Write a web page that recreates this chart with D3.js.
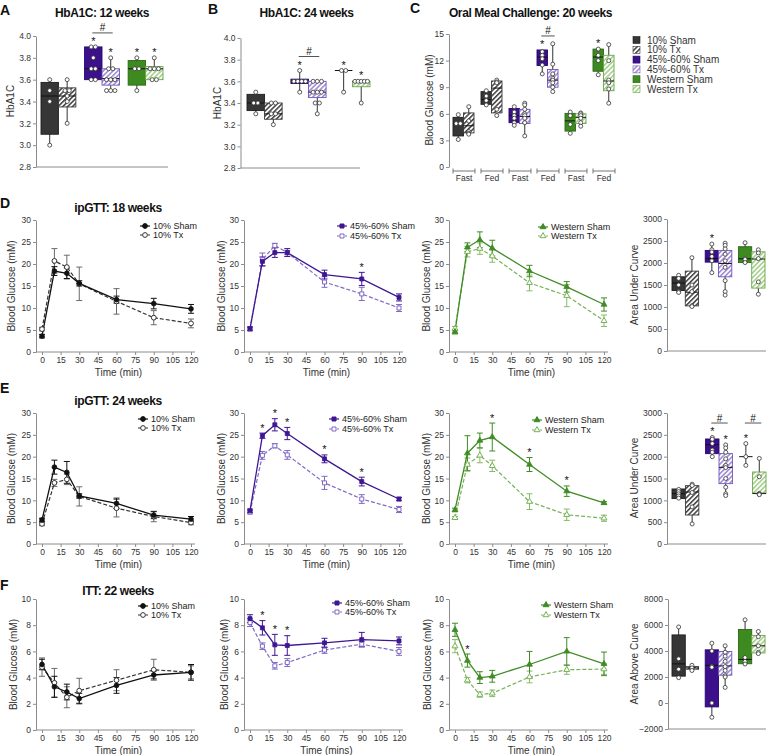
<!DOCTYPE html>
<html><head><meta charset="utf-8">
<script src="https://cdn.jsdelivr.net/npm/d3@7"></script>
<style>
body{margin:0;background:#fff;}
svg{display:block;}
</style></head><body>
<svg id="chart" width="768" height="755"></svg>
<script>
// ---------------- DATA ----------------
const times = [0,10,20,30,60,90,120];
const timeTicks = [0,15,30,45,60,75,90,105,120];
const groupNames = ["10% Sham","10% Tx","45%-60% Sham","45%-60% Tx","Western Sham","Western Tx"];
const mealCats = ["Fast","Fed","Fast","Fed","Fast","Fed"];

// A: HbA1C 12 weeks  [min, q1, median, q3, max]
const hba12Stats = [[3.0,3.1,3.45,3.575,3.6],[3.2,3.35,3.45,3.525,3.6],[3.6,3.6,3.7,3.9,3.9],[3.5,3.55,3.61,3.7,3.8],[3.5,3.55,3.7,3.775,3.8],[3.6,3.6,3.7,3.72,3.8]];
const hba12Pts = [[3.6,3.5,3.4,3.0],[3.6,3.5,3.5,3.45,3.4,3.2],[3.9,3.9,3.8,3.7,3.7,3.6,3.6],[3.8,3.7,3.7,3.6,3.6,3.6,3.5,3.5,3.5],[3.8,3.7,3.7,3.5],[3.8,3.7,3.7,3.7,3.6,3.6]];
const hba12Stars = [2,3,4,5];
const hba12Hash = [1];
const hbaTicks = [2.8,3.0,3.2,3.4,3.6,3.8,4.0];

// B: HbA1C 24 weeks
const hba24Stats = [[3.3,3.33,3.4,3.48,3.5],[3.2,3.25,3.3,3.4,3.4],[3.5,3.58,3.6,3.62,3.7],[3.3,3.45,3.5,3.6,3.6],[3.5,3.7,3.7,3.7,3.7],[3.4,3.55,3.6,3.6,3.6]];
const hba24Pts = [[3.5,3.4,3.4,3.3],[3.4,3.4,3.3,3.3,3.2],[3.7,3.6,3.6,3.6,3.6,3.5],[3.6,3.6,3.6,3.5,3.5,3.5,3.4,3.4,3.3],[3.7,3.7,3.5],[3.6,3.6,3.6,3.6,3.6,3.4]];
const hba24Stars = [2,4,5];
const hba24Hash = [1];

// C: Oral meal challenge 20 weeks (order: Fast10 Sham/Tx, Fed10 Sham/Tx, FastHF, FedHF, FastW, FedW)
const omcStats = [[3.1,3.5,4.9,5.6,5.9],[3.7,3.85,4.65,6.1,6.8],[7.0,7.07,7.6,8.5,8.6],[5.8,6.1,8.9,9.7,9.8],[4.7,5.0,5.8,6.6,6.8],[3.5,4.9,5.7,6.5,7.2],[10.5,11.45,12.4,13.2,13.2],[8.5,9.0,9.8,11.0,13.9],[3.8,4.05,5.2,6.05,6.2],[4.6,4.9,5.6,6.0,6.2],[10.4,10.8,12.4,13.3,13.3],[7.2,8.6,9.7,12.6,13.8]];
const omcPts = [[5.9,4.9,4.9,3.1],[6.8,5.2,4.0,3.8,3.7],[8.6,8.0,7.5,7.0],[9.8,9.6,9.5,6.5,5.8],[6.8,6.2,5.8,5.5,5.0,4.7],[7.2,7.0,6.5,6.0,5.8,5.5,5.0,3.5],[13.0,12.6,12.2,11.5,10.5],[13.9,11.6,10.5,10.0,9.8,9.5,9.0,8.5],[6.2,5.8,4.8,3.8],[6.1,6.0,5.8,5.5,5.0,4.6],[13.3,12.6,12.0,10.4],[13.8,12.0,9.8,9.5,8.8,7.2]];
const omcStars = [6,10];
const omcHash = [3];
const omcTicks = [0,3,6,9,12,15];

// D: ipGTT 18 weeks
const gtt18CtrlSham = [3.6,18.4,17.9,15.6,11.9,11.0,9.8];
const gtt18CtrlShamErr = [0.4,1.0,1.2,0.6,0.8,1.2,1.0];
const gtt18CtrlTx = [5.2,20.7,19.3,15.5,11.5,7.8,6.5];
const gtt18CtrlTxErr = [0.4,2.8,2.7,3.8,2.9,1.6,1.0];
const gtt18HfSham = [5.3,20.6,22.6,22.6,17.6,16.6,12.4];
const gtt18HfShamErr = [0.4,1.0,1.1,0.9,1.0,1.5,0.8];
const gtt18HfTx = [5.2,21.0,24.2,22.6,15.9,13.2,10.0];
const gtt18HfTxErr = [0.4,1.5,0.5,0.5,1.2,1.5,0.8];
const gtt18WSham = [4.6,23.8,25.5,23.6,18.4,14.8,10.8];
const gtt18WShamErr = [0.5,1.0,1.8,1.8,1.3,1.2,1.5];
const gtt18WTx = [5.3,22.8,23.5,21.8,15.7,12.8,7.1];
const gtt18WTxErr = [0.5,1.2,1.3,1.4,1.8,2.5,1.3];
const gtt18HfStars = [90];
const auc18Stats = [[1330,1375,1544,1686,1720],[1010,1025,1336,1815,2120],[1780,2020,2100,2286,2430],[1270,1686,1990,2286,2450],[2010,2010,2095,2370,2460],[1290,1430,2090,2255,2320]];
const auc18Pts = [[1720,1650,1500,1350,1330],[2120,1500,1350,1030,1010],[2430,2300,2250,2150,2050,1780],[2450,2400,2320,2200,2050,1900,1600,1350,1270],[2460,2100,2080,2010],[2300,2230,2100,1570,1290]];
const auc18Stars = [2];
const aucTicks = [0,500,1000,1500,2000,2500,3000];

// E: ipGTT 24 weeks
const gtt24CtrlSham = [5.5,17.6,16.4,11.0,9.3,6.6,5.7];
const gtt24CtrlShamErr = [0.4,1.6,2.5,0.5,1.2,0.8,0.6];
const gtt24CtrlTx = [4.6,14.0,14.8,10.9,8.2,6.3,4.9];
const gtt24CtrlTxErr = [0.4,0.8,1.2,2.2,2.0,1.2,0.5];
const gtt24HfSham = [7.6,24.8,27.3,25.3,19.5,14.3,10.3];
const gtt24HfShamErr = [0.4,0.6,1.4,1.4,0.9,1.0,0.4];
const gtt24HfTx = [7.3,20.3,22.5,20.4,14.0,10.3,7.9];
const gtt24HfTxErr = [0.4,0.9,0.5,1.0,1.5,1.0,0.7];
const gtt24WSham = [7.8,20.8,23.7,24.5,18.2,12.1,9.4];
const gtt24WShamErr = [0.4,4.0,1.7,3.2,1.6,1.2,0.3];
const gtt24WTx = [6.0,18.2,20.3,17.9,9.7,6.7,5.9];
const gtt24WTxErr = [0.3,1.5,1.7,1.3,1.8,1.3,0.7];
const gtt24HfStars = [10,20,30,60,90];
const gtt24WStars = [30,60,90];
const auc24Stats = [[1040,1040,1153,1260,1260],[460,664,1190,1336,1370],[2000,2069,2275,2405,2450],[1110,1382,1756,2070,2270],[1800,2000,2000,2000,2300],[1130,1153,1160,1649,1960]];
const auc24Pts = [[1250,1200,1150,1100,1050],[1370,1340,1180,850,460],[2440,2400,2300,2150,2100,2000],[2270,2200,2100,1950,1800,1750,1500,1300,1150,1110],[2300,2000,1800],[1960,1540,1160,1140,1130]];
const auc24Stars = [2,3,4];
const auc24Hash = [1,2];

// F: ITT 22 weeks
const ittCtrlSham = [5.0,3.3,2.9,2.4,3.4,4.2,4.4];
const ittCtrlShamErr = [0.4,0.8,0.6,0.4,0.6,0.3,0.6];
const ittCtrlTx = [4.8,3.6,2.5,3.0,3.8,4.6,4.4];
const ittCtrlTxErr = [0.7,1.1,0.8,0.95,0.8,0.8,0.5];
const ittHfSham = [8.5,7.8,6.5,6.45,6.65,6.9,6.8];
const ittHfShamErr = [0.3,0.55,0.8,0.75,0.35,0.55,0.3];
const ittHfTx = [8.2,6.4,4.9,5.15,6.1,6.55,6.0];
const ittHfTxErr = [0.3,0.25,0.25,0.3,0.25,0.2,0.3];
const ittWSham = [7.65,5.3,4.0,4.1,5.0,6.0,5.05];
const ittWShamErr = [0.5,0.5,0.45,0.45,1.0,1.05,0.9];
const ittWTx = [6.4,3.8,2.7,2.8,4.05,4.6,4.65];
const ittWTxErr = [0.5,0.2,0.2,0.25,0.45,0.35,0.4];
const ittHfStars = [10,20,30];
const ittWStars = [10];
const aacStats = [[1950,2066,3010,5237,5850],[2500,2600,2700,2800,2900],[-1100,-300,2900,4090,4600],[1200,2140,2850,3960,4400],[3000,3020,3350,5650,6400],[3800,3850,4400,5200,5500]];
const aacPts = [[5850,3400,2600,1950],[2900,2700,2500],[4600,4000,2800,2750,0,-1100],[4400,3900,3600,3200,2800,2500,2100,2000,1200],[6400,3500,3200,3000],[5500,5100,4400,3900,3800]];
const aacTicks = [-2000,0,2000,4000,6000,8000];

// ---------------- STYLE ----------------
const FONT = '"Liberation Sans", Arial, Helvetica, sans-serif';
const AXIS = "#8c8c8c";
const boxFill = ["#363636","url(#hatch0)","#3b108a","url(#hatch1)","#3d8a20","url(#hatch2)"];
const boxStroke = ["#1e1e1e","#3a3a3a","#260670","#6f56b8","#2a6814","#6aa548"];
const lineSham = ["#111111","#3f1692","#3f8c24"];
const lineTx = ["#333333","#8068c4","#78b257"];
const errTx = ["#6a6a6a","#8068c4","#86bb66"];
const shapes = [d3.symbolCircle, d3.symbolSquare, d3.symbolTriangle];
const symSize = [18, 16, 15];

const svg = d3.select("#chart").attr("font-family", FONT);
const defs = svg.append("defs");
function makeHatch(id, color){
  const s = 3.4;
  const p = defs.append("pattern").attr("id", id).attr("patternUnits","userSpaceOnUse")
    .attr("width", s).attr("height", s).attr("patternTransform","rotate(45)");
  p.append("rect").attr("width", s).attr("height", s).attr("fill", "#fff");
  p.append("line").attr("x1",0.8).attr("y1",0).attr("x2",0.8).attr("y2",s).attr("stroke",color).attr("stroke-width",1.5);
}
makeHatch("hatch0","#3a3a3a");
makeHatch("hatch1","#9a84d6");
makeHatch("hatch2","#9fcd84");

function txt(g, x, y, s, o={}){
  return g.append("text").attr("x",x).attr("y",y).text(s)
    .attr("font-size", o.size||10).attr("font-weight", o.bold?"bold":null)
    .attr("text-anchor", o.anchor||"start").attr("fill", o.fill||"#222")
    .attr("letter-spacing", o.ls||null);
}
function vlabel(g, cx, cy, s){
  g.append("text").attr("transform",`translate(${cx+3.5},${cy}) rotate(-90)`)
    .attr("text-anchor","middle").attr("font-size",10).attr("fill","#333").text(s);
}
function styleAxis(a){
  a.attr("font-family", null).attr("font-size", 8.5);
  a.select(".domain").attr("stroke", AXIS);
  a.selectAll(".tick line").attr("stroke", AXIS);
  a.selectAll(".tick text").attr("fill", "#333");
}
function yAxis(g, y, ticks, x, fmt){
  const a = g.append("g").attr("transform",`translate(${x},0)`)
    .call(d3.axisLeft(y).tickValues(ticks).tickSize(3).tickSizeOuter(0).tickPadding(2).tickFormat(fmt||d3.format("d")));
  styleAxis(a);
}
function hline(g, x1, x2, y, color){
  g.append("line").attr("x1",x1).attr("x2",x2).attr("y1",y).attr("y2",y).attr("stroke",color||AXIS);
}
function title(g, cx, y, s){ txt(g, cx, y, s, {size:12, bold:true, anchor:"middle", fill:"#111", ls:-0.4}); }
function letter(g, x, y, s){ txt(g, x, y, s, {size:14, bold:true, fill:"#111"}); }

// ---------------- BOX PANELS ----------------
function boxPanel(c){
  const g = svg.append("g");
  const y = d3.scaleLinear().domain(c.domain).range([c.yBot, c.yTop]);
  yAxis(g, y, c.ticks, c.axisX, c.fmt);
  if (c.xEnd) hline(g, c.axisX, c.xEnd, c.yBot);
  const nCats = c.stats.length/2;
  const cats = d3.scaleBand().domain(d3.range(nCats)).range([c.left, c.right]).paddingInner(c.pad);
  const bw = cats.bandwidth()/2;
  const styleOf = c.styleOf || (i=>i);
  const boxX = i => cats(Math.floor(i/2)) + (i%2)*bw;
  c.stats.forEach((s,i)=>{
    const st = styleOf(i), bx = boxX(i), cx = bx + bw/2;
    const [mn,q1,md,q3,mx] = s;
    g.append("line").attr("x1",cx).attr("x2",cx).attr("y1",y(mn)).attr("y2",y(mx)).attr("stroke","#333").attr("stroke-width",1);
    g.append("rect").attr("x",bx).attr("y",y(q3)).attr("width",bw).attr("height",Math.max(0,y(q1)-y(q3)))
      .attr("fill",boxFill[st]).attr("stroke",boxStroke[st]).attr("stroke-width",0.9);
    g.append("line").attr("x1",bx).attr("x2",bx+bw).attr("y1",y(md)).attr("y2",y(md)).attr("stroke","#111").attr("stroke-width",1);
    const p = c.pts[i];
    const counts = d3.rollup(p, v=>v.length, d=>d);
    const seen = new Map();
    const pd = p.map(v=>{ const n = counts.get(v), k = seen.get(v)||0; seen.set(v,k+1);
      const sp = Math.min(4.2, (bw-2)/n); return {v, dx:(k-(n-1)/2)*sp}; });
    g.selectAll(null).data(pd).join("circle").attr("cx",d=>cx+d.dx).attr("cy",d=>y(d.v)).attr("r",2)
      .attr("fill","#fff").attr("stroke","#333").attr("stroke-width",0.8);
  });
  const topOf = i => y(c.stats[i][4]);
  (c.stars||[]).forEach(i=>{
    txt(g, boxX(i)+bw/2, topOf(i)-2, "*", {size:11, anchor:"middle", fill:"#111"});
  });
  const hs = c.hash||[];
  if (hs.length){
    const ly = d3.min(hs, k => Math.min(topOf(2*k)-14, topOf(2*k+1)-5));
    hs.forEach(k=>{
      const x1 = boxX(2*k)+bw/2-1, x2 = boxX(2*k+1)+bw/2+2;
      hline(g, x1, x2, ly, "#555");
      txt(g, (x1+x2)/2, ly-1.5, "#", {size:10, anchor:"middle", fill:"#111"});
    });
  }
  return {g, cats, bw};
}

// A
{
  const r = boxPanel({domain:[2.8,4.0], yBot:167, yTop:36, ticks:hbaTicks, axisX:36, xEnd:168, fmt:d3.format(".1f"),
    stats:hba12Stats, pts:hba12Pts, left:41, right:163, pad:0.2, stars:hba12Stars, hash:hba12Hash});
  letter(r.g, 0, 15, "A"); title(r.g, 102, 17, "HbA1C: 12 weeks"); vlabel(r.g, 10.5, 101, "HbA1C");
}
// B
{
  const r = boxPanel({domain:[2.8,4.0], yBot:168, yTop:38, ticks:hbaTicks, axisX:240.5, xEnd:360, fmt:d3.format(".1f"),
    stats:hba24Stats, pts:hba24Pts, left:247, right:370, pad:0.2, stars:hba24Stars, hash:hba24Hash});
  letter(r.g, 208, 14, "B"); title(r.g, 306.5, 17, "HbA1C: 24 weeks"); vlabel(r.g, 217.5, 103, "HbA1C");
}
// C
{
  const r = boxPanel({domain:[0,15], yBot:167, yTop:34, ticks:omcTicks, axisX:449,
    stats:omcStats, pts:omcPts, left:453, right:614, pad:0.25, styleOf:i=>Math.floor(i/4)*2+(i%2),
    stars:omcStars, hash:omcHash});
  const g = r.g;
  mealCats.forEach((m,k)=>{
    const x1 = r.cats(k), x2 = r.cats(k)+r.cats.bandwidth()+1;
    hline(g, x1, x2, 171, "#777");
    [x1,x2].forEach(xx=>g.append("line").attr("x1",xx).attr("x2",xx).attr("y1",168.5).attr("y2",173.5).attr("stroke","#777"));
    txt(g, (x1+x2)/2, 181, m, {size:8.5, anchor:"middle", fill:"#333"});
  });
  letter(g, 410, 13, "C"); title(g, 530.5, 17, "Oral Meal Challenge: 20 weeks"); vlabel(g, 429.5, 100, "Blood Glucose (mM)");
  groupNames.forEach((n,i)=>{
    const cy = 40 + i*9.8;
    g.append("rect").attr("x",633).attr("y",cy-3.5).attr("width",7).attr("height",7)
      .attr("fill",boxFill[i]).attr("stroke",boxStroke[i]).attr("stroke-width",0.6);
    txt(g, 647, cy+3.6, n, {size:10, fill:"#333"});
  });
}
// D4, E4, F4
{
  const r = boxPanel({domain:[0,3000], yBot:351, yTop:219, ticks:aucTicks, axisX:667, xEnd:766,
    stats:auc18Stats, pts:auc18Pts, left:672, right:765, pad:0.2, stars:auc18Stars});
  vlabel(r.g, 634, 285, "Area Under Curve");
}
{
  const r = boxPanel({domain:[0,3000], yBot:544, yTop:413, ticks:aucTicks, axisX:667, xEnd:766,
    stats:auc24Stats, pts:auc24Pts, left:672, right:766, pad:0.2, stars:auc24Stars, hash:auc24Hash});
  vlabel(r.g, 634, 478, "Area Under Curve");
}
{
  const r = boxPanel({domain:[-2000,8000], yBot:729, yTop:599, ticks:aacTicks, axisX:668, xEnd:766,
    stats:aacStats, pts:aacPts, left:672, right:765, pad:0.2});
  vlabel(r.g, 634, 664, "Area Above Curve");
}

// ---------------- LINE PANELS ----------------
function linePanel(c){
  const g = svg.append("g");
  const x = d3.scaleLinear().domain([0,120]).range([c.x0, c.x120]);
  const y = d3.scaleLinear().domain([0,c.yMax]).range([c.yBot, c.yTop]);
  yAxis(g, y, c.ticks, c.axisX);
  const xa = g.append("g").attr("transform",`translate(0,${c.yBot})`)
    .call(d3.axisBottom(x).tickValues(timeTicks).tickSize(3).tickSizeOuter(0).tickPadding(2));
  styleAxis(xa); xa.select(".domain").remove();
  hline(g, c.axisX, c.x120+4, c.yBot);
  txt(g, (c.x0+c.x120)/2+2, c.yBot+23.5, c.xlabel||"Time (min)", {size:10, anchor:"middle", fill:"#333"});
  vlabel(g, c.ylx, (c.yBot+c.yTop)/2, "Blood Glucose (mM)");
  const d = c.diet;
  const mk = (vals, errs) => times.map((t,i)=>({t, v:vals[i], e:errs[i]}));
  const S = mk(c.sham, c.shamErr), T = mk(c.tx, c.txErr);
  function errs(data, color){
    data.forEach(p=>{
      const xx = x(p.t), y1 = y(p.v+p.e), y2 = y(p.v-p.e);
      g.append("line").attr("x1",xx).attr("x2",xx).attr("y1",y1).attr("y2",y2).attr("stroke",color).attr("stroke-width",1);
      [y1,y2].forEach(yy=>g.append("line").attr("x1",xx-3).attr("x2",xx+3).attr("y1",yy).attr("y2",yy).attr("stroke",color).attr("stroke-width",1));
    });
  }
  errs(T, errTx[d]); errs(S, lineSham[d]);
  const ln = d3.line().x(p=>x(p.t)).y(p=>y(p.v));
  g.append("path").datum(T).attr("d",ln).attr("fill","none").attr("stroke",lineTx[d]).attr("stroke-width",1.2).attr("stroke-dasharray","4,2");
  g.append("path").datum(S).attr("d",ln).attr("fill","none").attr("stroke",lineSham[d]).attr("stroke-width",1.3);
  const sym = d3.symbol().type(shapes[d]).size(symSize[d]);
  g.selectAll(null).data(T).join("path").attr("d",sym).attr("transform",p=>`translate(${x(p.t)},${y(p.v)})`)
    .attr("fill","#fff").attr("stroke",lineTx[d]).attr("stroke-width",1);
  g.selectAll(null).data(S).join("path").attr("d",sym).attr("transform",p=>`translate(${x(p.t)},${y(p.v)})`)
    .attr("fill",lineSham[d]).attr("stroke",lineSham[d]).attr("stroke-width",0.8);
  (c.stars||[]).forEach(t=>{
    const i = times.indexOf(t);
    const top = Math.min(y(c.sham[i]+c.shamErr[i]), y(c.tx[i]+c.txErr[i]));
    txt(g, x(t), top-1.5, "*", {size:11, anchor:"middle", fill:"#111"});
  });
  // legend
  [[c.ly1, groupNames[2*d], false],[c.ly2, groupNames[2*d+1], true]].forEach(([ly, name, isTx])=>{
    const col = isTx ? lineTx[d] : lineSham[d];
    g.append("line").attr("x1",c.lx-5).attr("x2",c.lx+5).attr("y1",ly).attr("y2",ly).attr("stroke",col).attr("stroke-width",1.2)
      .attr("stroke-dasharray", isTx ? "2.5,1.5" : null);
    g.append("path").attr("d",sym).attr("transform",`translate(${c.lx},${ly})`)
      .attr("fill", isTx ? "#fff" : col).attr("stroke",col).attr("stroke-width",1);
    txt(g, c.lx+8, ly+3.2, name, {size:9, fill:"#222"});
  });
  return g;
}
const cols = [{axisX:36,x0:42,x120:191,ylx:11.5},{axisX:244,x0:250,x120:399,ylx:221},{axisX:449,x0:455,x120:604,ylx:426}];
const rowD = {yBot:352, yTop:220, yMax:30, ticks:[0,5,10,15,20,25,30]};
const rowE = {yBot:544, yTop:413, yMax:30, ticks:[0,5,10,15,20,25,30]};
const rowF = {yBot:730, yTop:599, yMax:10, ticks:[0,2,4,6,8,10]};

const gD1 = linePanel({...cols[0], ...rowD, diet:0, sham:gtt18CtrlSham, shamErr:gtt18CtrlShamErr, tx:gtt18CtrlTx, txErr:gtt18CtrlTxErr, lx:145, ly1:226, ly2:235});
letter(gD1, 0, 208, "D"); title(gD1, 118, 212, "ipGTT: 18 weeks");
linePanel({...cols[1], ...rowD, diet:1, sham:gtt18HfSham, shamErr:gtt18HfShamErr, tx:gtt18HfTx, txErr:gtt18HfTxErr, stars:gtt18HfStars, lx:342, ly1:226, ly2:236});
linePanel({...cols[2], ...rowD, diet:2, sham:gtt18WSham, shamErr:gtt18WShamErr, tx:gtt18WTx, txErr:gtt18WTxErr, lx:543, ly1:227, ly2:236});

const gE1 = linePanel({...cols[0], ...rowE, diet:0, sham:gtt24CtrlSham, shamErr:gtt24CtrlShamErr, tx:gtt24CtrlTx, txErr:gtt24CtrlTxErr, lx:143, ly1:419, ly2:428});
letter(gE1, 0, 393, "E"); title(gE1, 118, 405, "ipGTT: 24 weeks");
linePanel({...cols[1], ...rowE, diet:1, sham:gtt24HfSham, shamErr:gtt24HfShamErr, tx:gtt24HfTx, txErr:gtt24HfTxErr, stars:gtt24HfStars, lx:334, ly1:419, ly2:429});
linePanel({...cols[2], ...rowE, diet:2, sham:gtt24WSham, shamErr:gtt24WShamErr, tx:gtt24WTx, txErr:gtt24WTxErr, stars:gtt24WStars, lx:537, ly1:420, ly2:430});

const gF1 = linePanel({...cols[0], ...rowF, diet:0, sham:ittCtrlSham, shamErr:ittCtrlShamErr, tx:ittCtrlTx, txErr:ittCtrlTxErr, lx:143, ly1:606, ly2:615, ylx:13});
letter(gF1, 0, 590, "F"); title(gF1, 118, 595, "ITT: 22 weeks");
linePanel({...cols[1], ...rowF, diet:1, sham:ittHfSham, shamErr:ittHfShamErr, tx:ittHfTx, txErr:ittHfTxErr, stars:ittHfStars, lx:337, ly1:603, ly2:612, xlabel:"Time (mins)", ylx:224});
linePanel({...cols[2], ...rowF, diet:2, sham:ittWSham, shamErr:ittWShamErr, tx:ittWTx, txErr:ittWTxErr, stars:ittWStars, lx:546, ly1:605, ly2:615, ylx:427});
</script>
</body></html>
